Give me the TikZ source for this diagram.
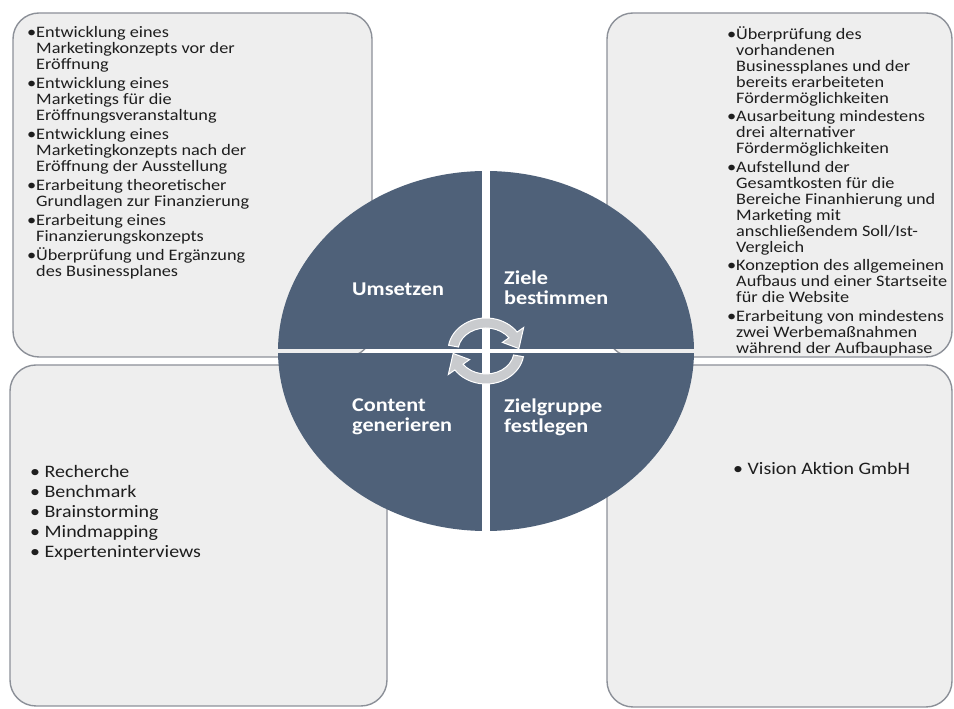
\documentclass[tikz,border=0pt]{standalone}
\usepackage{fontspec}
\setmainfont{Carlito}[FakeStretch=1.14]
\usepackage{tikz}
\usetikzlibrary{calc}
\definecolor{slate}{HTML}{4F6179}
\definecolor{panelfill}{HTML}{EEEEEE}
\definecolor{panelline}{HTML}{8C9098}
\definecolor{arrowgray}{HTML}{C9CBCE}
\definecolor{ink}{HTML}{1E1E1E}
\tikzset{
  panel/.style={draw=panelline, fill=panelfill, line width=1.4pt, rounded corners=26pt},
  quad/.style={fill=slate},
  lab/.style={text=white, font=\fontsize{19.5}{20}\selectfont\bfseries, align=left, inner sep=0pt, anchor=west},
  txt/.style={text=ink, font=\fontsize{16}{16}\selectfont, align=left, inner sep=0pt, anchor=north west},
  bigtxt/.style={txt, font=\fontsize{17.5}{20}\selectfont},
  cyc/.style={fill=arrowgray, draw=white, line width=1pt},
}

\begin{document}
\begin{tikzpicture}[x=1pt,y=1pt]
  \useasboundingbox (0,0) rectangle (954,709);
  \coordinate (ctr) at (486,358);

  % four panels behind the circle
  \draw[panel] (13,352) rectangle (372,696);
  \draw[panel] (607,352) rectangle (952,696);
  \draw[panel] (10,3) rectangle (387,344);
  \draw[panel] (607,2) rectangle (952,344);

  % quadrants
  \begin{scope}
    \clip (ctr) ellipse [x radius=208, y radius=180];
    \fill[quad] ($(ctr)+(-212,2)$) rectangle ($(ctr)+(-4,182)$);
    \fill[quad] ($(ctr)+(4,2)$) rectangle ($(ctr)+(212,182)$);
    \fill[quad] ($(ctr)+(-212,-2)$) rectangle ($(ctr)+(-4,-182)$);
    \fill[quad] ($(ctr)+(4,-2)$) rectangle ($(ctr)+(212,-182)$);
  \end{scope}

  % cycle arrows
  \filldraw[cyc] ($(ctr)+(170:28 and 23)$) -- ($(ctr)+(170:38 and 33)$)
    arc[start angle=170, end angle=35, x radius=38, y radius=33]
    -- ($(ctr)+(35:46 and 41)$) -- ($(ctr)+(5:33 and 28)$) -- ($(ctr)+(35:20 and 15)$)
    -- ($(ctr)+(35:28 and 23)$) arc[start angle=35, end angle=170, x radius=28, y radius=23] -- cycle;
  \filldraw[cyc] ($(ctr)+(-10:28 and 23)$) -- ($(ctr)+(-10:38 and 33)$)
    arc[start angle=-10, end angle=-145, x radius=38, y radius=33]
    -- ($(ctr)+(-145:46 and 41)$) -- ($(ctr)+(-175:33 and 28)$) -- ($(ctr)+(-145:20 and 15)$)
    -- ($(ctr)+(-145:28 and 23)$) arc[start angle=-145, end angle=-10, x radius=28, y radius=23] -- cycle;

  \node[lab] (umsetzen) at (352,420) {Umsetzen};
  \node[lab] (ziele) at (504,421) {Ziele\\bestimmen};
  \node[lab] (content) at (352,292) {Content\\generieren};
  \node[lab] (zielgruppe) at (504,292) {Zielgruppe\\festlegen};

  \node[txt] (tltext) at (36,683) {%
    \llap{•}Entwicklung eines\\Marketingkonzepts vor der\\Eröffnung\\[3pt]
    \llap{•}Entwicklung eines\\Marketings für die\\Eröffnungsveranstaltung\\[3pt]
    \llap{•}Entwicklung eines\\Marketingkonzepts nach der\\Eröffnung der Ausstellung\\[3pt]
    \llap{•}Erarbeitung theoretischer\\Grundlagen zur Finanzierung\\[3pt]
    \llap{•}Erarbeitung eines\\Finanzierungskonzepts\\[3pt]
    \llap{•}Überprüfung und Ergänzung\\des Businessplanes};

  \node[txt] (trtext) at (736,683) {%
    \llap{•}Überprüfung des\\vorhandenen\\Businessplanes und der\\bereits erarbeiteten\\Fördermöglichkeiten\\[2.5pt]
    \llap{•}Ausarbeitung mindestens\\drei alternativer\\Fördermöglichkeiten\\[2.5pt]
    \llap{•}Aufstellund der\\Gesamtkosten für die\\Bereiche Finanhierung und\\Marketing mit\\anschließendem Soll/Ist-\\Vergleich\\[2.5pt]
    \llap{•}Konzeption des allgemeinen\\Aufbaus und einer Startseite\\für die Website\\[2.5pt]
    \llap{•}Erarbeitung von mindestens\\zwei Werbemaßnahmen\\während der Aufbauphase};

  \node[bigtxt] (bltext) at (30,244) {• Recherche\\• Benchmark\\• Brainstorming\\• Mindmapping\\• Experteninterviews};
  \node[bigtxt] (brtext) at (733,247) {• Vision Aktion GmbH};
\end{tikzpicture}
\end{document}
